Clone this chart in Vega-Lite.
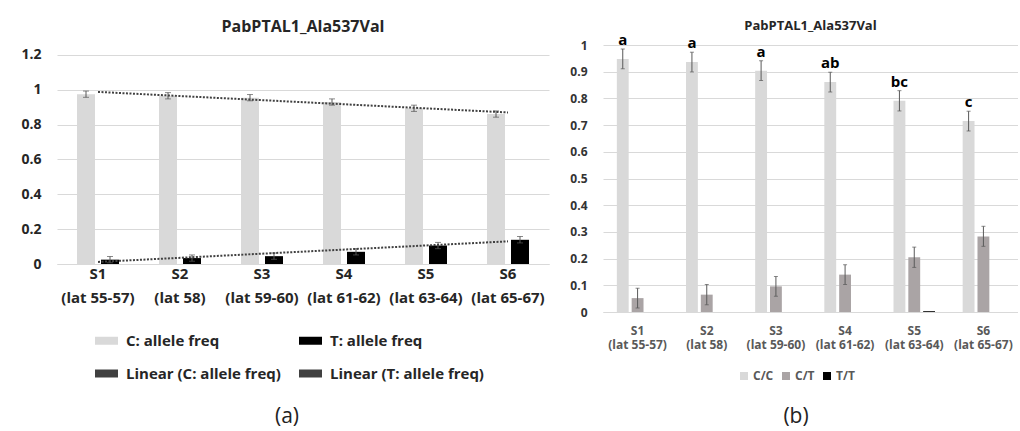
{
  "$schema": "https://vega.github.io/schema/vega-lite/v6.json",
  "background": "white",
  "padding": {"left": 20, "top": 19, "right": 0, "bottom": 0},
  "spacing": 20,
  "datasets": {
    "alleles": [
      {"sample": "S1 (lat 55-57)", "allele": "C: allele freq", "freq": 0.975, "lo": 0.957, "hi": 0.993},
      {"sample": "S1 (lat 55-57)", "allele": "T: allele freq", "freq": 0.025, "lo": 0.007, "hi": 0.043},
      {"sample": "S2 (lat 58)", "allele": "C: allele freq", "freq": 0.966, "lo": 0.948, "hi": 0.984},
      {"sample": "S2 (lat 58)", "allele": "T: allele freq", "freq": 0.034, "lo": 0.016, "hi": 0.052},
      {"sample": "S3 (lat 59-60)", "allele": "C: allele freq", "freq": 0.955, "lo": 0.937, "hi": 0.973},
      {"sample": "S3 (lat 59-60)", "allele": "T: allele freq", "freq": 0.045, "lo": 0.027, "hi": 0.063},
      {"sample": "S4 (lat 61-62)", "allele": "C: allele freq", "freq": 0.93, "lo": 0.912, "hi": 0.948},
      {"sample": "S4 (lat 61-62)", "allele": "T: allele freq", "freq": 0.07, "lo": 0.052, "hi": 0.088},
      {"sample": "S5 (lat 63-64)", "allele": "C: allele freq", "freq": 0.894, "lo": 0.876, "hi": 0.912},
      {"sample": "S5 (lat 63-64)", "allele": "T: allele freq", "freq": 0.106, "lo": 0.088, "hi": 0.124},
      {"sample": "S6 (lat 65-67)", "allele": "C: allele freq", "freq": 0.861, "lo": 0.843, "hi": 0.879},
      {"sample": "S6 (lat 65-67)", "allele": "T: allele freq", "freq": 0.139, "lo": 0.121, "hi": 0.158}
    ],
    "trends": [
      {"sample": "S1 (lat 55-57)", "series": "Linear (C: allele freq)", "value": 0.988},
      {"sample": "S6 (lat 65-67)", "series": "Linear (C: allele freq)", "value": 0.870},
      {"sample": "S1 (lat 55-57)", "series": "Linear (T: allele freq)", "value": 0.012},
      {"sample": "S6 (lat 65-67)", "series": "Linear (T: allele freq)", "value": 0.130}
    ],
    "genotypes": [
      {"sample": "S1 (lat 55-57)", "genotype": "C/C", "freq": 0.948, "lo": 0.911, "hi": 0.985, "letter": "a"},
      {"sample": "S1 (lat 55-57)", "genotype": "C/T", "freq": 0.052, "lo": 0.015, "hi": 0.089},
      {"sample": "S1 (lat 55-57)", "genotype": "T/T", "freq": 0},
      {"sample": "S2 (lat 58)", "genotype": "C/C", "freq": 0.936, "lo": 0.899, "hi": 0.973, "letter": "a"},
      {"sample": "S2 (lat 58)", "genotype": "C/T", "freq": 0.065, "lo": 0.027, "hi": 0.103},
      {"sample": "S2 (lat 58)", "genotype": "T/T", "freq": 0},
      {"sample": "S3 (lat 59-60)", "genotype": "C/C", "freq": 0.904, "lo": 0.867, "hi": 0.941, "letter": "a"},
      {"sample": "S3 (lat 59-60)", "genotype": "C/T", "freq": 0.096, "lo": 0.059, "hi": 0.133},
      {"sample": "S3 (lat 59-60)", "genotype": "T/T", "freq": 0},
      {"sample": "S4 (lat 61-62)", "genotype": "C/C", "freq": 0.861, "lo": 0.824, "hi": 0.898, "letter": "ab"},
      {"sample": "S4 (lat 61-62)", "genotype": "C/T", "freq": 0.14, "lo": 0.103, "hi": 0.177},
      {"sample": "S4 (lat 61-62)", "genotype": "T/T", "freq": 0},
      {"sample": "S5 (lat 63-64)", "genotype": "C/C", "freq": 0.791, "lo": 0.753, "hi": 0.829, "letter": "bc"},
      {"sample": "S5 (lat 63-64)", "genotype": "C/T", "freq": 0.205, "lo": 0.167, "hi": 0.243},
      {"sample": "S5 (lat 63-64)", "genotype": "T/T", "freq": 0.003},
      {"sample": "S6 (lat 65-67)", "genotype": "C/C", "freq": 0.715, "lo": 0.678, "hi": 0.752, "letter": "c"},
      {"sample": "S6 (lat 65-67)", "genotype": "C/T", "freq": 0.283, "lo": 0.246, "hi": 0.321},
      {"sample": "S6 (lat 65-67)", "genotype": "T/T", "freq": 0}
    ]
  },
  "hconcat": [
    {
      "title": {"text": "PabPTAL1_Ala537Val", "fontSize": 16, "fontWeight": "bold", "color": "#262626", "offset": 10, "font": "Open Sans"},
      "width": 492,
      "height": 219,
      "resolve": {"scale": {"x": "independent"}},
      "layer": [
        {
          "data": {"name": "alleles"},
          "encoding": {
            "x": {
              "field": "sample", "type": "nominal",
              "scale": {"type": "band", "domain": ["S1 (lat 55-57)", "S2 (lat 58)", "S3 (lat 59-60)", "S4 (lat 61-62)", "S5 (lat 63-64)", "S6 (lat 65-67)"], "paddingInner": 0.485, "paddingOuter": 0.2425},
              "axis": {"title": null, "labelAngle": 0, "labelExpr": "[slice(datum.label, 0, 2), slice(datum.label, 3)]", "labelFontSize": 15, "labelFontWeight": "bold", "labelColor": "#262626", "labelLineHeight": 24, "labelPadding": 2, "ticks": false, "domain": true, "domainColor": "#d9d9d9", "labelFont": "Open Sans"}
            }
          },
          "layer": [
            {
              "transform": [{"filter": "datum.allele === 'C: allele freq'"}],
              "mark": {"type": "bar", "width": 18, "xOffset": -12},
              "encoding": {
                "y": {"field": "freq", "type": "quantitative", "scale": {"domain": [0, 1.2574], "nice": false},
                  "axis": {"title": null, "values": [0, 0.2, 0.4, 0.6, 0.8, 1, 1.2], "tickCount": 20, "format": "~g", "labelOverlap": false, "labelFontSize": 14, "labelFontWeight": "bold", "labelColor": "#262626", "labelPadding": 16, "ticks": false, "domain": false, "grid": true, "gridColor": "#d9d9d9", "labelFont": "Open Sans"}},
                "color": {
                  "field": "allele", "type": "nominal",
                  "scale": {"domain": ["C: allele freq", "T: allele freq", "Linear (C: allele freq)", "Linear (T: allele freq)"], "range": ["#d9d9d9", "#000000", "#404040", "#404040"]},
                  "legend": {
                    "orient": "bottom", "direction": "horizontal", "columns": 2, "offset": -14, "padding": 34,
                    "title": "(a)", "titleOrient": "bottom", "titleAnchor": "middle", "titleFontSize": 21, "titleFontWeight": "normal", "titleColor": "#222222", "titlePadding": 16, "titleFont": "Open Sans",
                    "symbolType": "stroke", "symbolSize": 529, "symbolStrokeWidth": 8, "labelFont": "Open Sans", "labelFontSize": 15, "labelFontWeight": "bold", "labelColor": "#262626",
                    "rowPadding": 0, "columnPadding": 2, "labelOffset": 4, "labelLimit": 300
                  }
                }
              }
            },
            {
              "transform": [{"filter": "datum.allele === 'T: allele freq'"}],
              "mark": {"type": "bar", "width": 18, "xOffset": 12},
              "encoding": {
                "y": {"field": "freq", "type": "quantitative"},
                "color": {"field": "allele", "type": "nominal"}
              }
            },
            {
              "transform": [{"filter": "datum.allele === 'C: allele freq'"}],
              "mark": {"type": "rule", "color": "#595959", "strokeWidth": 1, "xOffset": -12},
              "encoding": {"y": {"field": "lo", "type": "quantitative"}, "y2": {"field": "hi"}}
            },
            {
              "transform": [{"filter": "datum.allele === 'T: allele freq'"}],
              "mark": {"type": "rule", "color": "#595959", "strokeWidth": 1, "xOffset": 12},
              "encoding": {"y": {"field": "lo", "type": "quantitative"}, "y2": {"field": "hi"}}
            },
            {
              "transform": [{"filter": "datum.allele === 'C: allele freq'"}],
              "mark": {"type": "tick", "color": "#595959", "size": 6, "thickness": 1, "orient": "horizontal", "xOffset": -12},
              "encoding": {"y": {"field": "lo", "type": "quantitative"}}
            },
            {
              "transform": [{"filter": "datum.allele === 'C: allele freq'"}],
              "mark": {"type": "tick", "color": "#595959", "size": 6, "thickness": 1, "orient": "horizontal", "xOffset": -12},
              "encoding": {"y": {"field": "hi", "type": "quantitative"}}
            },
            {
              "transform": [{"filter": "datum.allele === 'T: allele freq'"}],
              "mark": {"type": "tick", "color": "#595959", "size": 6, "thickness": 1, "orient": "horizontal", "xOffset": 12},
              "encoding": {"y": {"field": "lo", "type": "quantitative"}}
            },
            {
              "transform": [{"filter": "datum.allele === 'T: allele freq'"}],
              "mark": {"type": "tick", "color": "#595959", "size": 6, "thickness": 1, "orient": "horizontal", "xOffset": 12},
              "encoding": {"y": {"field": "hi", "type": "quantitative"}}
            }
          ]
        },
        {
          "data": {"name": "trends"},
          "mark": {"type": "line", "strokeWidth": 2, "strokeDash": [2, 1.5]},
          "encoding": {
            "x": {"field": "sample", "type": "nominal", "scale": {"type": "point", "domain": ["S1 (lat 55-57)", "S2 (lat 58)", "S3 (lat 59-60)", "S4 (lat 61-62)", "S5 (lat 63-64)", "S6 (lat 65-67)"], "padding": 0.5}, "axis": null},
            "y": {"field": "value", "type": "quantitative"},
            "color": {"field": "series", "type": "nominal"}
          }
        }
      ]
    },
    {
      "title": {"text": "PabPTAL1_Ala537Val", "fontSize": 13, "fontWeight": "bold", "color": "#262626", "offset": 0, "font": "Open Sans"},
      "width": 415,
      "height": 267,
      "data": {"name": "genotypes"},
      "encoding": {
        "x": {
          "field": "sample", "type": "nominal",
          "scale": {"type": "band", "domain": ["S1 (lat 55-57)", "S2 (lat 58)", "S3 (lat 59-60)", "S4 (lat 61-62)", "S5 (lat 63-64)", "S6 (lat 65-67)"], "paddingInner": 0.4, "paddingOuter": 0.2},
          "axis": {"title": null, "labelAngle": 0, "labelExpr": "[slice(datum.label, 0, 2), slice(datum.label, 3)]", "labelFontSize": 12, "labelFontWeight": "bold", "labelColor": "#595959", "labelLineHeight": 14, "labelPadding": 13, "ticks": false, "domain": true, "domainColor": "#d9d9d9", "labelFont": "Open Sans"}
        },
        "xOffset": {"field": "genotype", "type": "nominal", "scale": {"domain": ["C/C", "C/T", "T/T"], "paddingInner": 0.2}}
      },
      "layer": [
        {
          "mark": {"type": "bar"},
          "encoding": {
            "y": {"field": "freq", "type": "quantitative", "scale": {"domain": [0, 1], "nice": false},
              "axis": {"title": null, "values": [0, 0.1, 0.2, 0.3, 0.4, 0.5, 0.6, 0.7, 0.8, 0.9, 1], "tickCount": 20, "format": "~g", "labelOverlap": false, "labelFontSize": 12, "labelFontWeight": "bold", "labelColor": "#333333", "labelPadding": 16, "ticks": false, "domain": false, "grid": true, "gridColor": "#d9d9d9", "labelFont": "Open Sans"}},
            "color": {
              "field": "genotype", "type": "nominal",
              "scale": {"domain": ["C/C", "C/T", "T/T"], "range": ["#d9d9d9", "#aaa4a5", "#000000"]},
              "legend": {"orient": "bottom", "direction": "horizontal", "offset": -115, "padding": 135,
                "title": "(b)", "titleOrient": "bottom", "titleAnchor": "middle", "titleFontSize": 21, "titleFontWeight": "normal", "titleColor": "#222222", "titlePadding": 24, "titleFont": "Open Sans",
                "symbolType": "square", "symbolSize": 64, "labelFont": "Open Sans", "labelFontSize": 12, "labelFontWeight": "bold", "labelColor": "#595959", "columnPadding": 6, "labelOffset": 3, "symbolStrokeWidth": 0}
            }
          }
        },
        {
          "transform": [{"filter": "isValid(datum.lo)"}],
          "mark": {"type": "rule", "color": "#595959", "strokeWidth": 1},
          "encoding": {
            "y": {"field": "lo", "type": "quantitative"},
            "y2": {"field": "hi"}
          }
        },
        {
          "transform": [{"filter": "isValid(datum.lo)"}],
          "mark": {"type": "tick", "color": "#595959", "size": 4, "thickness": 1, "orient": "horizontal"},
          "encoding": {"y": {"field": "lo", "type": "quantitative"}}
        },
        {
          "transform": [{"filter": "isValid(datum.hi)"}],
          "mark": {"type": "tick", "color": "#595959", "size": 4, "thickness": 1, "orient": "horizontal"},
          "encoding": {"y": {"field": "hi", "type": "quantitative"}}
        },
        {
          "transform": [{"filter": "isValid(datum.letter)"}],
          "mark": {"type": "text", "font": "Open Sans", "fontSize": 15, "fontWeight": "bold", "color": "#000000", "baseline": "bottom", "dy": -1},
          "encoding": {
            "y": {"field": "hi", "type": "quantitative"},
            "text": {"field": "letter"}
          }
        }
      ]
    }
  ],
  "resolve": {"scale": {"color": "independent"}},
  "config": {
    "view": {"stroke": null},
    "font": "Open Sans",
    "axisY": {"labelOverlap": false}
  }
}
